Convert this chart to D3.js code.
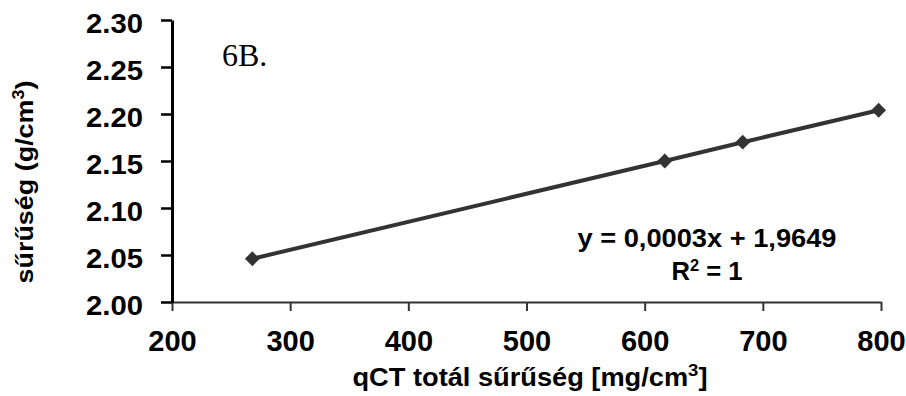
<!DOCTYPE html>
<html>
<head>
<meta charset="utf-8">
<script src="https://cdn.jsdelivr.net/npm/d3@7"></script>
<style>
  body { margin: 0; background: #fff; }
  svg { display: block; }
  text { font-family: "Liberation Sans", Arial, sans-serif; font-weight: bold; fill: #000; }
</style>
</head>
<body>
<svg id="chart"></svg>
<script>
// values
const qctDensity = [268, 617, 683, 798];
const density = [2.046, 2.150, 2.170, 2.204];
const xTicks = [200, 300, 400, 500, 600, 700, 800];
const yTicks = [2.00, 2.05, 2.10, 2.15, 2.20, 2.25, 2.30];
const panelLabel = '6B.';
const xTitle = 'qCT totál sűrűség [mg/cm';
const yTitle = 'sűrűség (g/cm';
const equationLabel = 'y = 0,0003x + 1,9649';

const width = 906;
const height = 396;
const margin = {top: 20, right: 25, bottom: 94, left: 172};

const svg = d3.select('#chart')
  .attr('width', width)
  .attr('height', height);

const x = d3.scaleLinear().domain([200, 800]).range([margin.left, width - margin.right]);
const y = d3.scaleLinear().domain([2.00, 2.30]).range([height - margin.bottom, margin.top]);

// x axis
const xAxis = svg.append('g')
  .attr('transform', 'translate(0,' + y(2.00) + ')')
  .call(d3.axisBottom(x).tickValues(xTicks).tickSize(9).tickSizeOuter(0).tickPadding(19));
xAxis.select('.domain').attr('stroke', '#333').attr('stroke-width', 2);
xAxis.selectAll('.tick line').attr('stroke', '#333').attr('stroke-width', 2);
xAxis.selectAll('.tick text')
  .style('font-size', '29px')
  .attr('fill', '#000');

// y axis
const yAxis = svg.append('g')
  .attr('transform', 'translate(' + x(200) + ',0)')
  .call(d3.axisLeft(y).tickValues(yTicks).tickFormat(d3.format('.2f')).tickSize(11).tickSizeOuter(0).tickPadding(18));
yAxis.select('.domain').attr('stroke', '#000').attr('stroke-width', 3);
yAxis.selectAll('.tick line').attr('stroke', '#000').attr('stroke-width', 2.5);
yAxis.selectAll('.tick text')
  .style('font-size', '27px')
  .attr('dy', '0.47em')
  .attr('textLength', 57)
  .attr('lengthAdjust', 'spacingAndGlyphs')
  .attr('fill', '#000');

// data line
const line = d3.line()
  .x((d, i) => x(qctDensity[i]))
  .y(d => y(d));

svg.append('path')
  .datum(density)
  .attr('fill', 'none')
  .attr('stroke', '#333')
  .attr('stroke-width', 4)
  .attr('d', line);

svg.selectAll('.marker')
  .data(density)
  .join('path')
  .attr('class', 'marker')
  .attr('fill', '#333')
  .attr('transform', (d, i) => 'translate(' + x(qctDensity[i]) + ',' + y(d) + ') rotate(45)')
  .attr('d', d3.symbol(d3.symbolSquare, 110));

// axis titles
const xt = svg.append('text')
  .attr('x', 530)
  .attr('y', 386)
  .attr('text-anchor', 'middle')
  .attr('textLength', 355)
  .attr('lengthAdjust', 'spacingAndGlyphs')
  .style('font-size', '25px');
xt.append('tspan').text(xTitle);
xt.append('tspan').attr('dy', -10).style('font-size', '17px').text('3');
xt.append('tspan').attr('dy', 10).text(']');

const yt = svg.append('text')
  .attr('transform', 'translate(33,182) rotate(-90)')
  .attr('text-anchor', 'middle')
  .attr('textLength', 203)
  .attr('lengthAdjust', 'spacingAndGlyphs')
  .style('font-size', '24px');
yt.append('tspan').text(yTitle);
yt.append('tspan').attr('dy', -9).style('font-size', '16px').text('3');
yt.append('tspan').attr('dy', 9).text(')');

// panel label
svg.append('text')
  .attr('x', 222)
  .attr('y', 66)
  .style('font-family', '"Liberation Serif", "Times New Roman", serif')
  .style('font-weight', 'normal')
  .style('font-size', '32px')
  .text(panelLabel);

// trendline equation
svg.append('text')
  .attr('x', 707)
  .attr('y', 247)
  .attr('text-anchor', 'middle')
  .attr('textLength', 259)
  .attr('lengthAdjust', 'spacingAndGlyphs')
  .style('font-size', '25px')
  .text(equationLabel);

const r2 = svg.append('text')
  .attr('x', 707)
  .attr('y', 280)
  .attr('text-anchor', 'middle')
  .attr('textLength', 71)
  .attr('lengthAdjust', 'spacingAndGlyphs')
  .style('font-size', '25px');
r2.append('tspan').text('R');
r2.append('tspan').attr('dy', -9).style('font-size', '16px').text('2');
r2.append('tspan').attr('dy', 9).text(' = 1');
</script>
</body>
</html>
